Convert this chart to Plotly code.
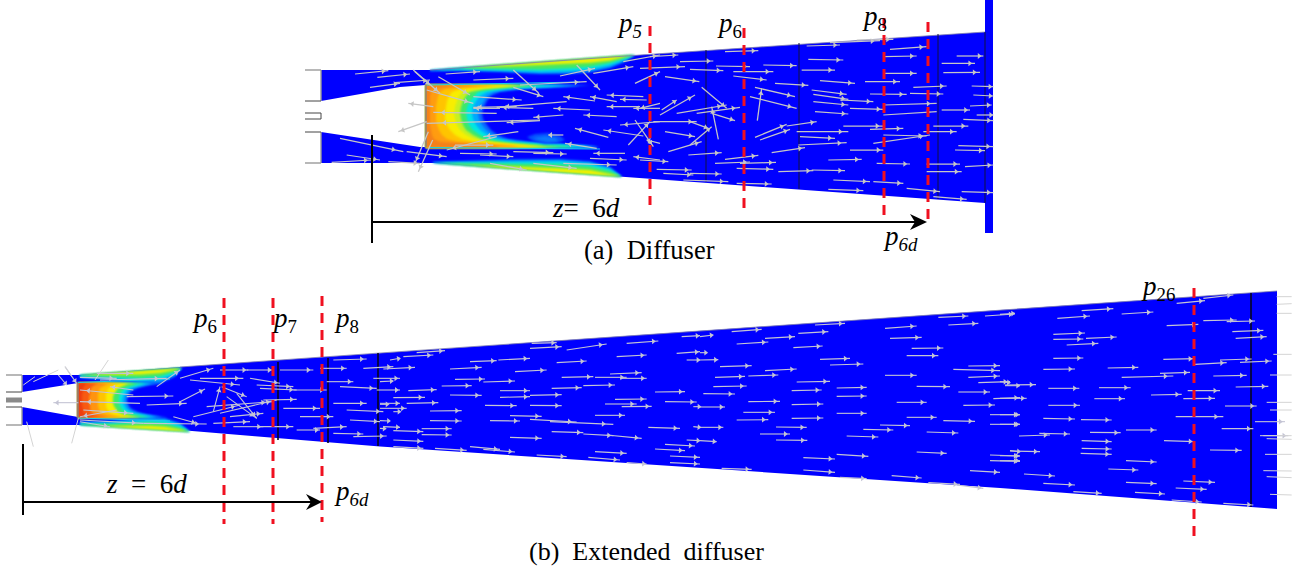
import math
import numpy as np
import plotly.graph_objects as go

BLUE = "#0000ff"
RED = "#f01020"
ARROW = "#c6c6c6"
ARROW_B = "#c4c4d4"
SERIF = "Liberation Serif"

# ---- duct outlines (picture pixels) ----
top_duct_x = [321, 321, 400, 426, 426, 420, 321, 321, 433, 640, 992, 992, 985, 640, 430, 321]
top_duct_y = [70, 101, 87, 85, 147, 147, 132, 163, 163, 178, 203.5, 31, 32, 55, 70, 70]
bottom_duct_x = [22, 22, 78, 78, 22, 22, 78, 180, 380, 700, 1000, 1277, 1277, 1000, 700, 380, 180, 78]
bottom_duct_y = [375, 392, 383, 417, 407, 425, 425, 430, 446.5, 468, 488, 509, 291, 310, 331, 353, 367, 375]

# ---- flow field contours: core ----
contour_colors = ["#0a66ff", "#00a8ff", "#00e8e0", "#3ee86a", "#c8f020", "#f8ee00", "#ffc400", "#ff9c10", "#f4801a"]
top_core_y = [85, 86.5, 89, 92, 96, 101, 107, 113, 119, 125, 130, 135, 139, 142, 144, 146, 147.5]
top_core_levels = [
    [590, 575, 525, 500, 491, 487, 484, 482, 483, 487, 491, 498, 508, 530, 560, 595, 600],
    [580, 565, 515, 494, 487, 484, 480, 478, 479, 482, 486, 493, 503, 525, 552, 590, 598],
    [565, 550, 505, 487, 480, 476, 473, 472, 473, 476, 480, 487, 496, 515, 545, 585, 590],
    [545, 528, 495, 478, 474, 470, 467, 466, 467, 469, 473, 480, 488, 505, 530, 565, 575],
    [530, 515, 485, 470, 466, 463, 461, 460, 461, 463, 466, 473, 481, 495, 520, 550, 560],
    [518, 505, 475, 463, 459, 457, 455, 454, 455, 457, 460, 466, 474, 488, 510, 535, 548],
    [505, 490, 460, 452, 449, 447, 446, 445, 445, 447, 450, 455, 462, 475, 500, 525, 535],
    [495, 476, 445, 440, 438, 437, 436, 436, 436, 437, 439, 442, 447, 458, 485, 510, 520],
    [480, 450, 432, 431, 430, 430, 430, 430, 430, 430, 431, 432, 434, 440, 470, 495, 500],
]
bottom_core_colors = ["#0a66ff", "#00a8ff", "#00e8e0", "#3ee86a", "#f8ee00", "#ffc400", "#ff9410", "#f85a12", "#ee3c10"]
bottom_core_y = [383, 384, 386, 388, 391, 394, 397, 400, 403, 406, 409, 412, 414, 416, 417.5]
bottom_core_levels = [
    [165, 155, 146, 138, 132, 129, 128, 127, 128, 129, 132, 138, 146, 158, 168],
    [158, 150, 142, 134, 129, 127, 126, 125, 126, 127, 129, 134, 142, 152, 162],
    [152, 145, 137, 130, 126, 124, 123, 122, 123, 124, 126, 130, 137, 148, 156],
    [145, 138, 131, 125, 122, 120, 119, 119, 119, 120, 122, 125, 131, 142, 150],
    [135, 128, 122, 118, 116, 114, 113, 113, 113, 114, 116, 118, 122, 132, 140],
    [125, 118, 112, 109, 107, 106, 106, 106, 106, 106, 107, 109, 112, 122, 130],
    [115, 108, 103, 100, 99, 98, 98, 98, 98, 98, 99, 100, 104, 112, 120],
    [104, 97, 93, 91, 90, 90, 89, 89, 89, 90, 90, 91, 94, 100, 108],
    [92, 86, 84, 83, 83, 82, 82, 82, 82, 82, 83, 83, 85, 90, 96],
]

# ---- flow field contours: wall bands (depth measured from the wall) ----
band_colors = ["#0090ff", "#00e0e8", "#48e860", "#f4f000"]
top_upper_x = [430, 460, 500, 540, 570, 590, 610, 625, 635]
top_upper_wall = [70, 67.8, 65, 62, 59.8, 58.3, 56.9, 55.8, 55]
top_upper_depth = [[1, 3, 7, 12, 14, 14, 11, 6, 0], [0.5, 2, 5.5, 10, 11.5, 11.5, 8.5, 4, 0],
                   [0, 1, 4, 7.5, 8.5, 8.5, 6, 2.5, 0], [0, 0, 1.5, 3, 4, 4.5, 3.5, 1, 0]]
top_lower_x = [433, 470, 520, 560, 590, 610, 622]
top_lower_wall = [163, 165.7, 169.4, 172.3, 174.5, 175.9, 176.8]
top_lower_depth = [[1, 5, 10, 13, 13, 9, 0], [0.5, 3.5, 8, 11, 11, 7, 0],
                   [0, 2, 5.5, 8, 8, 5, 0], [0, 0.5, 2.5, 4, 4.5, 2, 0]]
bottom_upper_x = [80, 100, 120, 140, 160, 175, 182]
bottom_upper_wall = [375, 373.6, 372.3, 370.9, 369.5, 368.5, 368]
bottom_upper_depth = [[3, 6, 9, 12, 14, 8, 0], [2, 4, 7, 9, 10, 6, 0], [1, 3, 5, 7, 7, 3.5, 0], [0, 1, 2.5, 3.5, 3.5, 1.5, 0]]
bottom_lower_x = [80, 110, 130, 150, 165, 180, 190]
bottom_lower_wall = [425, 427, 428.2, 429.2, 430.2, 431, 431.7]
bottom_lower_depth = [[3, 6, 9, 12, 12, 8, 0], [2, 4, 7, 9, 10, 6, 0], [1, 3, 5, 7, 7, 3.5, 0], [0, 1, 2.5, 3.5, 3.5, 1.5, 0]]

blob_x = [527, 535, 548, 560, 565, 558, 545, 533]
blob_y = [137, 134, 133, 136, 140, 143, 144, 141]

# ---- section lines ----
top_black_x = [706, 799, 938, 985]
top_black_y0 = [50, 43, 34, 32]
top_black_y1 = [182, 189, 199, 203]
bottom_black_x = [278, 328, 378, 1251]
bottom_black_y0 = [362, 358, 353, 293]
bottom_black_y1 = [440, 443, 446, 507]
red_x = [650, 744, 884, 928, 224, 273, 322, 1194]
red_y0 = [26, 28, 18, 22, 298, 298, 296, 288]
red_y1 = [205, 208, 216, 220, 524, 524, 522, 542]

# ---- velocity vectors, tail x/y to head x/y, read in 3x crop units ----
top_left_crop = (300, 0, [
 (165,222,265,212),(232,232,330,222),(210,262,300,250),(285,248,390,240),(340,210,420,280),(345,215,390,255),
 (437,222,540,215),(415,230,510,285),(520,240,640,235),(640,210,715,278),(640,262,730,290),(380,270,520,310),
 (520,290,665,300),(590,340,400,337),(720,360,380,370),(650,320,520,322),(700,325,600,322),(800,305,590,322),
 (400,320,325,310),(380,365,295,395),(385,395,345,490),(398,420,355,515),(120,415,310,455),(140,465,240,480),
 (95,487,215,480),(265,485,360,490),(320,455,440,470),(465,435,580,435),(590,410,440,450),(480,460,590,462),
 (540,465,640,470),(640,455,760,458),(700,460,800,462),(570,490,680,510),(700,490,830,505),(790,490,950,495),
 (870,475,980,480),(780,228,885,205),(880,220,1000,200),(970,185,1080,165),(830,195,900,270),(1005,250,1080,215),
 (660,255,860,245),(885,303,790,290),(950,305,870,290),(1030,290,920,285),(1040,300,960,298),(950,350,850,345),
 (870,330,760,325),(925,412,825,385),(1030,408,910,390),(1020,320,920,320),(1080,325,1000,325),(890,445,795,430),
 (975,460,880,460),(985,435,1050,365),(1005,360,1060,440),(1080,480,1000,470),(655,395,550,410),(720,362,620,368),
 (790,345,700,352),(600,325,520,325),(790,405,745,405),(1080,365,960,375),(1080,310,1020,325),(1080,430,1040,420),
])
top_right_crop = (640, 0, [
 (30,170,115,165),(120,185,220,183),(0,205,135,200),(150,208,250,212),(75,230,178,245),(255,155,355,152),
 (228,198,330,200),(280,215,400,215),(280,228,380,240),(370,195,470,197),(405,250,505,256),(345,262,465,290),
 (330,290,470,325),(352,362,365,265),(185,262,260,325),(235,418,215,320),(85,455,185,425),(150,435,215,380),
 (60,345,165,285),(65,330,110,300),(110,340,260,315),(170,340,300,322),(215,340,285,362),(150,365,205,385),
 (75,395,165,410),(40,365,170,365),(145,465,245,458),(255,478,355,466),(225,490,330,486),(300,490,408,487),
 (0,480,85,485),(50,508,155,510),(70,520,160,525),(150,520,245,522),(130,540,265,545),(290,550,395,552),
 (290,505,400,508),(345,412,440,373),(360,420,450,388),(440,378,530,365),(470,395,625,395),(480,410,585,415),
 (395,458,495,443),(475,435,620,428),(415,515,520,512),(515,510,615,512),(565,480,665,478),(580,540,690,545),
 (700,545,790,550),(565,568,670,572),(630,450,730,450),(710,490,810,492),(515,270,620,283),(520,283,625,298),
 (520,305,625,315),(525,335,625,342),(600,300,700,305),(630,325,730,328),(540,242,645,250),(505,178,610,180),
 (485,210,585,210),(500,138,600,135),(570,128,720,122),(650,120,760,118),(750,148,860,140),(730,170,830,168),
 (690,282,800,283),(810,280,910,282),(730,315,890,310),(730,345,890,335),(610,378,730,378),(690,388,790,385),
 (700,430,870,405),(730,405,860,408),(675,245,780,245),(820,262,920,258),(860,492,960,492),(860,515,965,515),
 (800,565,900,575),(880,590,980,598),(730,220,830,220),(905,190,1005,190),(910,218,1020,217),(950,168,1030,168),
 (995,258,1060,260),(1000,285,1060,288),(905,330,990,330),(880,378,985,378),(850,395,950,395),(945,450,1035,452),
 (955,437,1060,440),(1010,345,1060,345),(990,318,1055,315),(970,358,1060,362),(965,575,1060,578),(975,500,1060,495),
])
bottom_left_crop = (0, 290, [
 (175,255,200,285),(195,230,230,280),(240,262,350,265),(290,250,400,250),(300,270,500,265),(400,315,240,300),
 (420,340,240,335),(350,360,240,380),(235,338,160,338),(470,290,540,240),(540,265,640,235),(570,270,720,285),
 (660,240,745,240),(600,265,730,265),(380,320,520,318),(440,345,560,340),(540,335,615,297),(430,400,620,402),
 (520,380,590,400),(640,400,750,395),(580,380,720,345),(640,365,660,290),(665,290,740,320),(680,320,770,385),
 (710,310,770,385),(620,350,820,335),(660,370,830,330),(740,240,820,240),(770,285,880,290),(750,265,840,280),
 (790,330,890,328),(690,380,790,370),(770,410,880,410),(700,410,790,410),(780,295,890,300),(840,240,940,240),
 (850,355,960,355),(880,300,980,300),(900,380,1000,380),(940,415,1040,410),(890,420,960,420),(960,235,1040,235),
 (1000,210,1100,207),(980,275,1060,275),(1020,290,1130,295),(1000,340,1100,340),(1040,360,1150,365),
 (1050,390,1140,395),(1000,430,1090,432),(1060,440,1160,438),(1090,235,1180,230),(1120,265,1200,265),
 (1130,300,1200,300),(1140,340,1200,340),(1170,210,1200,205),(1150,410,1200,412),(1180,365,1200,365),
 (240,390,430,400),(240,395,330,410),(250,360,400,370),(400,300,330,290),
])
bottom_mid_crop = (380, 320, [
 (70,110,160,105),(110,98,195,92),(270,125,350,122),(355,120,450,115),(530,128,620,123),(450,85,545,80),
 (560,90,680,72),(455,70,530,68),(740,70,835,63),(710,110,800,105),(890,100,960,95),(905,50,960,47),(920,120,960,120),
 (10,147,105,142),(210,147,305,142),(405,155,500,150),(225,178,315,177),(310,186,405,183),(545,172,640,170),
 (645,172,740,172),(690,162,785,158),(720,175,800,175),(0,185,40,183),(85,212,170,209),(185,198,275,197),
 (360,212,450,212),(515,205,605,203),(610,197,705,195),(825,216,915,215),(40,233,135,232),(210,225,305,226),
 (360,232,450,230),(450,226,545,224),(705,238,800,237),(855,245,950,246),(80,250,175,248),(0,253,25,253),
 (0,265,80,265),(150,273,245,272),(315,256,410,257),(450,256,545,257),(675,252,770,252),(725,260,815,259),
 (390,287,485,289),(645,286,735,286),(940,260,960,260),(150,302,245,303),(330,302,420,303),(450,298,590,306),
 (510,305,700,313),(0,302,30,303),(940,320,960,322),(805,322,900,325),(40,332,130,335),(125,326,215,326),
 (125,344,215,345),(0,325,15,326),(515,335,610,338),(610,342,700,347),(680,345,785,355),(390,352,485,355),
 (40,360,130,364),(40,380,130,385),(165,385,260,391),(270,380,360,388),(310,388,405,396),(470,405,560,410),
 (645,395,740,400),(625,412,720,420),(740,428,800,432),(825,387,915,392),(855,373,945,378),(870,408,960,412),
 (870,428,960,432),(920,360,960,362),
])
bottom_far_crop = (700, 300, [
 (0,110,40,105),(95,95,185,88),(195,115,285,110),(295,100,385,95),(110,132,205,126),(345,75,435,70),
 (555,85,650,78),(715,52,805,48),(745,75,835,70),(855,48,945,42),(570,115,665,112),(280,143,368,138),
 (0,158,20,158),(0,180,55,179),(60,200,155,197),(635,145,730,144),(620,167,715,167),(360,178,450,175),
 (390,195,490,192),(195,212,290,207),(45,232,135,229),(145,228,235,225),(555,226,650,226),(760,208,900,212),
 (805,198,900,197),(805,232,900,228),(290,246,390,244),(835,248,930,245),(915,257,960,257),(40,260,140,258),
 (275,272,365,270),(410,264,500,262),(650,259,750,260),(775,276,870,276),(10,281,105,282),(410,289,500,288),
 (880,296,960,293),(145,305,240,304),(590,307,680,307),(0,321,75,321),(275,314,370,312),(790,316,885,315),
 (130,337,225,337),(410,340,500,340),(870,344,960,344),(110,360,205,359),(275,355,370,354),(620,352,710,352),
 (730,362,825,364),(870,373,960,373),(540,375,630,377),(490,388,580,390),(0,382,70,382),(228,381,320,382),
 (180,402,270,402),(680,396,775,399),(440,408,535,411),(0,422,50,425),(228,420,322,421),(410,463,505,469),
 (310,473,405,477),(650,456,740,460),(870,465,960,468),(870,482,960,484),(930,452,960,455),(65,505,155,508),
 (310,510,405,517),(810,512,900,517),(575,527,665,534),(420,532,500,536),(685,548,780,553),(770,555,850,565),
])
bottom_end_crop = (1000, 270, [
 (0,133,45,130),(172,145,270,138),(245,122,340,116),(365,132,460,126),(530,100,615,92),(610,85,700,75),
 (500,167,595,163),(610,152,710,150),(680,155,765,153),(697,185,790,181),(707,205,800,200),(160,193,255,189),
 (160,208,250,207),(200,225,295,220),(258,205,350,201),(160,265,250,264),(130,298,225,297),(323,294,415,292),
 (490,268,585,266),(585,283,680,278),(660,270,755,267),(720,277,815,273),(480,310,570,307),(365,322,520,318),
 (640,318,740,316),(15,345,108,344),(0,335,30,338),(145,355,238,355),(297,353,392,353),(563,362,660,362),
 (707,351,805,349),(0,385,80,385),(283,386,375,386),(453,375,545,373),(550,386,645,385),(145,406,240,406),
 (675,408,770,408),(0,434,60,434),(130,445,225,447),(243,449,335,450),(527,440,670,440),(0,463,60,463),
 (765,455,855,455),(665,476,760,476),(378,480,470,480),(57,498,150,495),(118,490,210,492),(270,487,362,488),
 (245,512,335,515),(492,512,585,515),(780,497,865,497),(245,535,335,537),(242,550,335,553),(630,540,725,541),
 (30,543,120,545),(0,557,60,558),(0,572,60,572),(378,572,470,576),(325,597,415,600),(72,612,165,618),
 (130,640,225,645),(378,637,470,641),(550,633,645,637),(527,654,620,658),(405,667,495,672),(220,665,305,670),
 (515,690,605,696),(670,700,760,705),
])
faint_crop = (1000, 270, [
 (830,80,875,80),(830,103,875,101),(830,130,875,130),(820,253,875,253),(810,315,875,315),(800,397,875,397),
 (810,420,875,420),(790,497,875,497),(800,506,875,508),(795,553,875,553),(790,602,875,603),(800,620,875,623),
 (810,673,875,675),
])
faint_left_crop = (0, 290, [
 (100,275,175,240),(325,210,285,270),(195,230,215,260),(100,470,80,395),(215,460,235,385),(105,260,70,285),
])

fig = go.Figure()


def poly(xs, ys, color):
    fig.add_trace(go.Scatter(x=list(xs), y=list(ys), mode="lines", fill="toself", fillcolor=color,
                             line=dict(color=color, width=0), hoverinfo="skip", showlegend=False))


def segs(x0s, y0s, x1s, y1s, color, width, dash=None):
    xs, ys = [], []
    for a, b, c, d in zip(x0s, y0s, x1s, y1s):
        xs += [a, c, None]
        ys += [b, d, None]
    fig.add_trace(go.Scatter(x=xs, y=ys, mode="lines", line=dict(color=color, width=width, dash=dash),
                             hoverinfo="skip", showlegend=False))


def core(ys, levels, colors, left):
    for front, col in zip(levels, colors):
        poly([left] + list(front) + [left], [ys[0]] + list(ys) + [ys[-1]], col)


def band(xs, wall, depths, sign):
    for depth, col in zip(depths, band_colors):
        edge = [w + sign * d for w, d in zip(wall, depth)]
        poly(list(xs) + list(xs)[::-1], list(wall) + edge[::-1], col)


def vectors(crops, color, width, head):
    x0, y0, x1, y1, hx, hy, ang = [], [], [], [], [], [], []
    for ox, oy, items in crops:
        for a, b, c, d in items:
            p = (ox + a / 3, oy + b / 3, ox + c / 3, oy + d / 3)
            x0.append(p[0]); y0.append(p[1]); x1.append(p[2]); y1.append(p[3])
            hx.append(p[0] + 0.84 * (p[2] - p[0]))
            hy.append(p[1] + 0.84 * (p[3] - p[1]))
            ang.append(math.degrees(math.atan2(p[3] - p[1], p[2] - p[0])))
    segs(x0, y0, x1, y1, color, width)
    if head:
        fig.add_trace(go.Scatter(x=hx, y=hy, mode="markers", hoverinfo="skip", showlegend=False,
                                 marker=dict(symbol="triangle-right", size=head, color=color, angle=ang,
                                             line=dict(width=0))))


# ducts
poly(top_duct_x, top_duct_y, BLUE)
poly([985, 993, 993, 985], [0, 0, 233, 233], BLUE)
poly(bottom_duct_x, bottom_duct_y, BLUE)
first_soft = len(fig.data)

# contour fills
band(top_upper_x, top_upper_wall, top_upper_depth, 1)
band(top_lower_x, top_lower_wall, top_lower_depth, -1)
band(bottom_upper_x, bottom_upper_wall, bottom_upper_depth, 1)
band(bottom_lower_x, bottom_lower_wall, bottom_lower_depth, -1)
core(top_core_y, top_core_levels, contour_colors, 426)
core(bottom_core_y, bottom_core_levels, bottom_core_colors, 78)
poly(blob_x, blob_y, "#0650ff")
poly([533, 545, 556, 558, 548, 538], [138, 136, 138, 141, 142, 140], "#0a78ff")
last_soft = len(fig.data)

# thin cyan shear layers
segs([427, 430, 78, 78], [85, 147.5, 382.5, 418], [580, 600, 170, 170], [82, 149, 379, 421], "#18d0e8", 1)

# wall edges
segs([430, 640, 180, 380, 700], [70, 55, 367, 353, 331], [640, 985, 380, 700, 1277], [55, 32, 353, 331, 291], "#8080b0", 0.8)

# inlet stubs
segs([305, 305, 321, 321, 6, 6, 22, 22], [70, 163, 70, 132, 375, 425, 375, 407],
     [321, 321, 321, 321, 22, 22, 22, 22], [70, 163, 101, 163, 375, 425, 392, 425], "#9a9a9a", 1.4)
segs([305, 305, 6, 6], [101, 132, 392, 407], [321, 321, 22, 22], [101, 132, 392, 407], "#444444", 1)
segs([305, 305, 321], [113, 119, 113], [321, 321, 321], [113, 119, 119], "#444444", 1)
segs([426, 78], [85, 383], [426, 78], [147, 417], "#808080", 1.4)
segs([6], [400], [22], [400], "#8a8a8a", 5)

# black section lines
segs(top_black_x, top_black_y0, top_black_x, top_black_y1, "#101040", 1)
segs(bottom_black_x, bottom_black_y0, bottom_black_x, bottom_black_y1, "#050520", 1.6)

# velocity vectors
vectors([top_left_crop, top_right_crop], ARROW, 1.25, 5)
vectors([bottom_left_crop, bottom_mid_crop, bottom_far_crop, bottom_end_crop], ARROW_B, 1.1, 5)
vectors([faint_crop, faint_left_crop], "#d4d4d4", 1, 0)

# red dashed sections
segs(red_x, red_y0, red_x, red_y1, RED, 3, dash="10px,7px")

# dimension lines
segs([372, 372, 23, 23], [135, 222, 444, 502], [372, 917, 23, 312], [243, 222, 515, 502], "black", 2)
poly([927, 910, 915, 910], [222, 214, 222, 230], "black")
poly([322, 306, 311, 306], [502, 494, 502, 510], "black")

labels = [
    (616, 25, "<i>p<sub>5</sub></i>", 27), (716, 25, "<i>p</i><sub>6</sub>", 27), (861, 18, "<i>p</i><sub>8</sub>", 27),
    (882, 238, "<i>p<sub>6d</sub></i>", 27), (191, 320, "<i>p</i><sub>6</sub>", 27), (271, 320, "<i>p</i><sub>7</sub>", 27),
    (333, 320, "<i>p</i><sub>8</sub>", 27), (333, 493, "<i>p<sub>6d</sub></i>", 27), (1140, 288, "<i>p</i><sub>26</sub>", 27),
    (551, 208, "<i>z</i>=  6<i>d</i>", 27), (105, 484, "<i>z</i>  =  6<i>d</i>", 27),
    (583, 250, "(a)  Diffuser", 26.5), (528, 551, "(b)  Extended  diffuser", 26),
]
annotations = [dict(x=x, y=y, text=t, xref="x", yref="y", xanchor="left", yanchor="middle", showarrow=False,
                    borderpad=0, font=dict(family=SERIF, size=s, color="black")) for x, y, t, s in labels]

fig.update_layout(width=1303, height=571, margin=dict(l=0, r=0, t=0, b=0), paper_bgcolor="white", plot_bgcolor="white",
                  showlegend=False, annotations=annotations,
                  xaxis=dict(range=[0, 1303], visible=False, fixedrange=True),
                  yaxis=dict(range=[571, 0], visible=False, fixedrange=True))
soft_js = ("document.querySelectorAll('.scatterlayer .trace').forEach((e,i)=>{if(i>=%d&&i<%d)e.style.filter='blur(0.8px)';});"
           % (first_soft, last_soft))
fig.write_html("out.html", config=dict(displayModeBar=False),
               post_script="document.body.style.margin='0';document.body.style.overflow='hidden';" + soft_js +
                           "document.querySelectorAll('.cartesianlayer').forEach(e=>e.style.filter='blur(0.5px)');")
